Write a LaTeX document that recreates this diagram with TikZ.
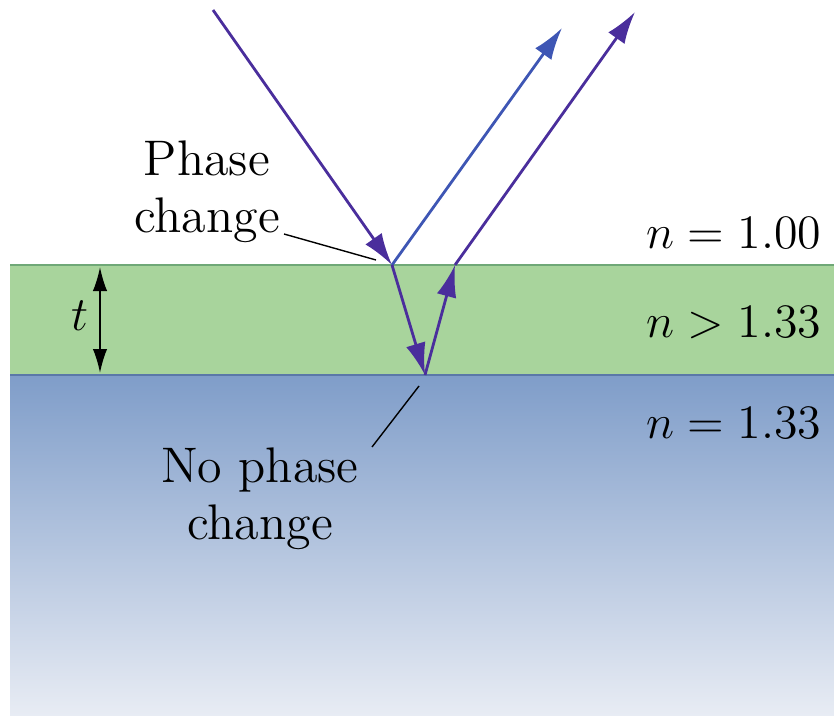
\documentclass[tikz,border=0pt]{standalone}
\usetikzlibrary{arrows.meta}
\definecolor{filmgreen}{HTML}{A8D49C}
\definecolor{filmedge}{HTML}{6FA877}
\definecolor{watertop}{HTML}{7F9DC9}
\definecolor{waterbot}{HTML}{E8ECF4}
\definecolor{wateredge}{HTML}{5A78A8}
\definecolor{raypurple}{HTML}{4A2E9C}
\definecolor{rayblue}{HTML}{3E56B4}
\begin{document}
\begin{tikzpicture}[x=0.25pt, y=-0.25pt,
		ray/.style={line width=0.7pt, -{Latex[length=8pt, width=5pt]}},
		leader/.style={line width=0.35pt},
		lbl/.style={font=\fontsize{12.5}{14.3}\selectfont, align=center, inner sep=0pt}]
		\useasboundingbox (0,0) rectangle (834,716);
		% layers
		\shade[top color=watertop, bottom color=waterbot] (10,375) rectangle (834,716);
		\fill[filmgreen] (10,265) rectangle (834,375);
		\draw[filmedge, line width=0.7pt] (10,265) -- (834,265);
		\draw[wateredge, line width=0.7pt] (10,375) -- (834,375);
		% ray points
		\coordinate (src) at (213,10);
		\coordinate (top1) at (392,265);
		\coordinate (bot) at (425,375);
		\coordinate (top2) at (455,265);
		\coordinate (out1) at (562,28);
		\coordinate (out2) at (635,12);
		\draw[ray, raypurple] (src) -- (top1);
		\draw[ray, rayblue] (top1) -- (out1);
		\draw[ray, raypurple] (top1) -- (bot);
		\draw[ray, raypurple] (bot) -- (top2);
		\draw[ray, raypurple] (top2) -- (out2);
		% thickness
		\coordinate (tup) at (100,267);
		\coordinate (tdown) at (100,373);
		\draw[line width=0.45pt, {Latex[length=6pt, width=3.6pt]}-{Latex[length=6pt, width=3.6pt]}] (tup) -- (tdown);
		\node[lbl] (tlbl) at (80,316) {$t$};
		% labels
		\node[lbl] (phase) at (207,192) {Phase\\change};
		\node[lbl] (nophase) at (260,499) {No phase\\change};
		\coordinate (phend) at (376,260);
		\coordinate (nophend) at (419,386);
		\draw[leader] (284,234) -- (phend);
		\draw[leader] (372,447) -- (nophend);
		\node[lbl, anchor=east] (nair) at (822,233) {$n = 1.00$};
		\node[lbl, anchor=east] (nfilm) at (822,323) {$n > 1.33$};
		\node[lbl, anchor=east] (nwater) at (822,423) {$n = 1.33$};
\end{tikzpicture}
\end{document}
